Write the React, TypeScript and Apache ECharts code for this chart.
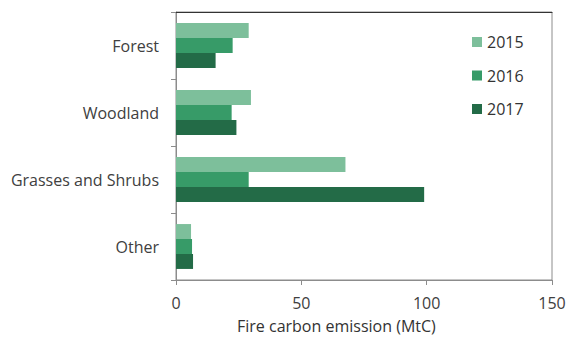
import React, { useEffect, useRef } from "react";
import * as echarts from "echarts";

const categories = ["Forest", "Woodland", "Grasses and Shrubs", "Other"];
const years = ["2015", "2016", "2017"];
const values2015 = [29.0, 29.9, 67.6, 6.0];
const values2016 = [22.6, 22.2, 29.0, 6.4];
const values2017 = [15.8, 24.1, 99.0, 6.8];
const xTicks = [0, 50, 100, 150];
const xTitle = "Fire carbon emission (MtC)";
const colors = ["#7DBF9B", "#379B68", "#236B47"];

const FONT = "Open Sans";

export default function App() {
  const ref = useRef<HTMLDivElement>(null);
  useEffect(() => {
    if (!ref.current) return;
    const chart = echarts.init(ref.current, null, { renderer: "svg" });
    const seriesData = [values2015, values2016, values2017];
    chart.setOption({
      animation: false,
      backgroundColor: "#ffffff",
      textStyle: { fontFamily: FONT },
      grid: {
        left: 176,
        right: 20,
        top: 12,
        bottom: 63,
        show: true,
        borderColor: "#8c8c8c",
        borderWidth: 1,
        backgroundColor: "transparent",
      },
      legend: {
        orient: "vertical",
        left: 472,
        top: 33,
        padding: 0,
        itemWidth: 10,
        itemHeight: 10,
        itemGap: 15.5,
        itemTextGap: 5,
        icon: "rect",
        data: years,
        textStyle: { fontFamily: FONT, fontSize: 16, color: "#333333", lineHeight: 18 },
      },
      xAxis: [
        {
          type: "value",
          min: xTicks[0],
          max: xTicks[xTicks.length - 1],
          interval: 50,
          axisLine: { show: true, lineStyle: { color: "#8c8c8c", width: 1 } },
          axisTick: { show: true, length: 5, lineStyle: { color: "#8c8c8c" } },
          axisLabel: { fontFamily: FONT, fontSize: 16, color: "#404040", margin: 15 },
          splitLine: { show: false },
        },
        {
          type: "value",
          position: "top",
          min: xTicks[0],
          max: xTicks[xTicks.length - 1],
          axisLine: { show: true, lineStyle: { color: "#333333", width: 1 } },
          axisTick: { show: false },
          axisLabel: { show: false },
          splitLine: { show: false },
        },
      ],
      yAxis: {
        type: "category",
        data: categories,
        inverse: true,
        axisLine: { show: true, lineStyle: { color: "#8c8c8c", width: 1 } },
        axisTick: { show: true, length: 5, lineStyle: { color: "#8c8c8c" } },
        axisLabel: { fontFamily: FONT, fontSize: 16, color: "#404040", margin: 17 },
      },
      series: years.map((y, i) => ({
        name: y,
        type: "bar",
        xAxisIndex: 0,
        data: seriesData[i],
        barGap: "0%",
        barCategoryGap: "33%",
        itemStyle: { color: colors[i] },
      })),
      graphic: [
        {
          type: "text",
          left: 237,
          top: 318,
          style: { text: xTitle, fontFamily: FONT, fontSize: 16, fill: "#333333" },
        },
      ],
    });
    return () => chart.dispose();
  }, []);
  return (
    <div
      ref={ref}
      style={{ position: "fixed", left: 0, top: 0, width: 572, height: 343 }}
    />
  );
}
